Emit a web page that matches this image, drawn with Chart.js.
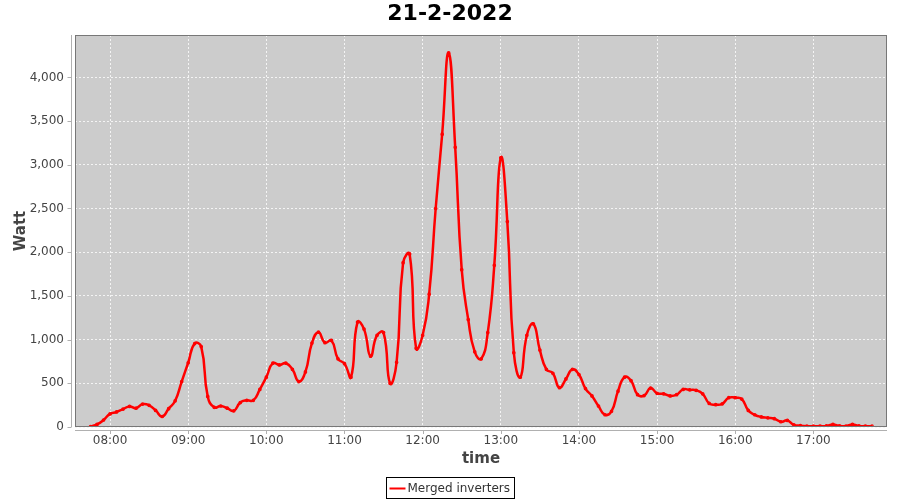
<!DOCTYPE html>
<html lang="en">
<head>
<meta charset="UTF-8">
<title>21-2-2022</title>
<script src="https://cdn.jsdelivr.net/npm/chart.js"></script>
<style>
  body { margin: 0; background: #fff; }
</style>
</head>
<body>
<canvas id="grafico" width="900" height="500"></canvas>
<script>
// dados (um ponto a cada 5 minutos)
const titulo = '21-2-2022';
const serie = 'Merged inverters';

const horas = [
  '07:45','07:50','07:55','08:00','08:05','08:10','08:15','08:20','08:25','08:30','08:35','08:40','08:45','08:50','08:55',
  '09:00','09:05','09:10','09:15','09:20','09:25','09:30','09:35','09:40','09:45','09:50','09:55',
  '10:00','10:05','10:10','10:15','10:20','10:25','10:30','10:35','10:40','10:45','10:50','10:55',
  '11:00','11:05','11:10','11:15','11:20','11:25','11:30','11:35','11:40','11:45','11:50','11:55',
  '12:00','12:05','12:10','12:15','12:20','12:25','12:30','12:35','12:40','12:45','12:50','12:55',
  '13:00','13:05','13:10','13:15','13:20','13:25','13:30','13:35','13:40','13:45','13:50','13:55',
  '14:00','14:05','14:10','14:15','14:20','14:25','14:30','14:35','14:40','14:45','14:50','14:55',
  '15:00','15:05','15:10','15:15','15:20','15:25','15:30','15:35','15:40','15:45','15:50','15:55',
  '16:00','16:05','16:10','16:15','16:20','16:25','16:30','16:35','16:40','16:45','16:50','16:55',
  '17:00','17:05','17:10','17:15','17:20','17:25','17:30','17:35','17:40','17:45'
];

const watts = [
  5, 30, 80, 150, 172, 205, 235, 215, 262, 248, 190, 120, 210, 300, 520,
  735, 955, 920, 350, 225, 240, 215, 185, 280, 305, 305, 430,
  570, 730, 710, 730, 660, 520, 630, 960, 1085, 965, 990, 780,
  725, 570, 1200, 1120, 810, 1050, 1080, 500, 740, 1880, 1980, 900,
  1050, 1520, 2500, 3350, 4280, 3200, 1800, 1230, 860, 780, 1080, 1850,
  3080, 2350, 850, 570, 1050, 1180, 880, 660, 615, 450, 550, 660,
  600, 440, 355, 240, 140, 180, 410, 570, 530, 370, 360, 445,
  385, 380, 355, 370, 430, 425, 420, 380, 270, 255, 265, 335,
  335, 320, 190, 140, 115, 105, 95, 60, 75, 25, 15, 10,
  10, 10, 12, 30, 12, 10, 30, 12, 10, 10
];

const ticksX = ['08:00','09:00','10:00','11:00','12:00','13:00','14:00','15:00','16:00','17:00'];
const ticksY = [0, 500, 1000, 1500, 2000, 2500, 3000, 3500, 4000];

function minutos(h) {
  const p = h.split(':');
  return Number(p[0]) * 60 + Number(p[1]);
}
function hhmm(m) {
  const h = Math.floor(m / 60), mm = Math.round(m % 60);
  return String(h).padStart(2, '0') + ':' + String(mm).padStart(2, '0');
}

const pontos = horas.map((h, i) => ({ x: minutos(h), y: watts[i] }));

const fonte = '"DejaVu Sans", sans-serif';

// fundo cinza, contorno, eixos deslocados, título e legenda no estilo JFreeChart
const estilo = {
  id: 'estilo',
  beforeDraw(chart) {
    const { ctx, chartArea: a } = chart;
    ctx.save();
    ctx.fillStyle = '#cccccc';
    ctx.fillRect(a.left, a.top, a.right - a.left, a.bottom - a.top);
    ctx.restore();
  },
  afterDraw(chart) {
    const { ctx, chartArea: a } = chart;
    const sx = chart.scales.x, sy = chart.scales.y;
    ctx.save();
    // contorno do plot
    ctx.strokeStyle = '#777777';
    ctx.lineWidth = 1;
    ctx.strokeRect(a.left + 0.5, a.top + 0.5, a.right - a.left - 1, a.bottom - a.top - 1);

    // linhas dos eixos
    ctx.strokeStyle = '#b0b0b0';
    ctx.beginPath();
    ctx.moveTo(a.left - 3.5, a.top);
    ctx.lineTo(a.left - 3.5, a.bottom);
    ctx.moveTo(a.left, a.bottom + 3.5);
    ctx.lineTo(a.right, a.bottom + 3.5);
    sy.ticks.forEach(t => {
      const y = Math.round(sy.getPixelForValue(t.value)) + 0.5;
      ctx.moveTo(a.left - 7.5, y);
      ctx.lineTo(a.left - 3.5, y);
    });
    sx.ticks.forEach(t => {
      const x = Math.round(sx.getPixelForValue(t.value)) + 0.5;
      ctx.moveTo(x, a.bottom + 3.5);
      ctx.lineTo(x, a.bottom + 7);
    });
    ctx.stroke();

    // título
    ctx.fillStyle = '#000';
    ctx.font = 'bold 22px ' + fonte;
    ctx.textAlign = 'center';
    ctx.textBaseline = 'middle';
    ctx.fillText(titulo, chart.width / 2, 14);

    // legenda
    ctx.font = '12px ' + fonte;
    const tw = ctx.measureText(serie).width;
    const bw = Math.round(tw + 25);
    const bx = Math.round(chart.width / 2 - bw / 2) + 0.5;
    const by = 477.5, bh = 21;
    ctx.strokeStyle = '#000';
    ctx.lineWidth = 1;
    ctx.strokeRect(bx, by, bw, bh);
    ctx.strokeStyle = '#ff0000';
    ctx.lineWidth = 2;
    ctx.beginPath();
    ctx.moveTo(bx + 3, by + 11);
    ctx.lineTo(bx + 19, by + 11);
    ctx.stroke();
    ctx.fillStyle = '#333';
    ctx.textAlign = 'left';
    ctx.fillText(serie, bx + 21, by + 11);
    ctx.restore();
  }
};

const ctx = document.getElementById('grafico').getContext('2d');
const grafico = new Chart(ctx, {
  type: 'line',
  data: {
    datasets: [{
      label: serie,
      data: pontos,
      borderColor: '#ff0000',
      backgroundColor: '#ff0000',
      borderWidth: 2.5,
      pointRadius: 0.6,
      pointHoverRadius: 0.6,
      tension: 0.5,
      fill: false
    }]
  },
  options: {
    responsive: false,
    animation: false,
    devicePixelRatio: 1,
    layout: { padding: { top: 35, right: 13, bottom: 0, left: 0 } },
    plugins: {
      legend: { display: false },
      title: { display: false },
      tooltip: { enabled: false }
    },
    scales: {
      x: {
        type: 'linear',
        min: 453.1,
        max: 1076.5,
        afterFit(s) { s.height = 73; },
        afterBuildTicks(s) { s.ticks = ticksX.map(t => ({ value: minutos(t) })); },
        border: { display: false, dash: [2, 2] },
        grid: {
          color: '#f4f4f4',
          lineWidth: 1,
          drawTicks: false
        },
        ticks: {
          padding: 7,
          color: '#444444',
          font: { family: fonte, size: 12 },
          maxRotation: 0,
          callback: v => hhmm(v)
        },
        title: {
          display: true,
          text: 'time',
          color: '#444444',
          font: { family: fonte, size: 15, weight: 'bold' },
          padding: { top: 0, bottom: 32 }
        }
      },
      y: {
        min: 0,
        max: 4485,
        afterFit(s) { s.width = 75; },
        afterBuildTicks(s) { s.ticks = ticksY.map(v => ({ value: v })); },
        border: { display: false, dash: [2, 2] },
        grid: {
          color: '#f4f4f4',
          lineWidth: 1,
          drawTicks: false
        },
        ticks: {
          padding: 11,
          color: '#444444',
          font: { family: fonte, size: 12 },
          callback: v => v.toLocaleString('en-US')
        },
        title: {
          display: true,
          text: 'Watt',
          color: '#444444',
          font: { family: fonte, size: 15, weight: 'bold' },
          padding: { top: 12, bottom: 0 }
        }
      }
    }
  },
  plugins: [estilo]
});
</script>
</body>
</html>
